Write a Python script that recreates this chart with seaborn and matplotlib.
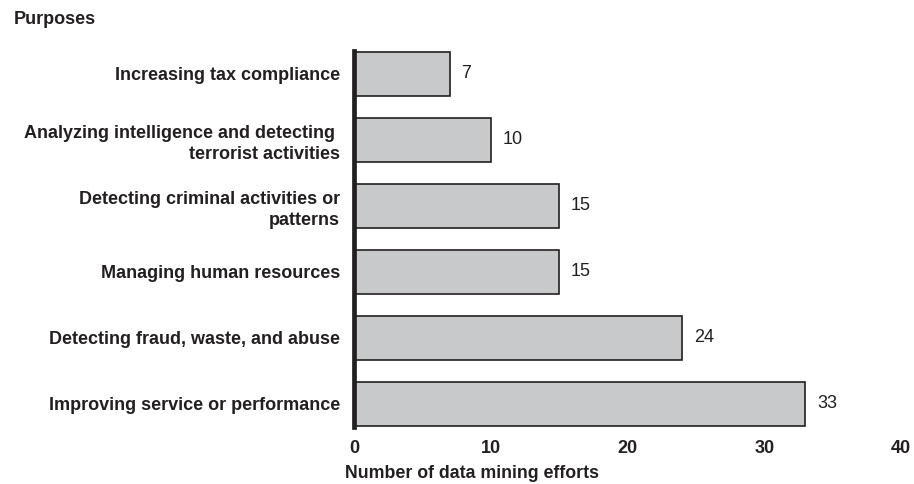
import matplotlib
matplotlib.use("Agg")
import matplotlib.pyplot as plt
import seaborn as sns
import pandas as pd

# data
purposes = [
    "Increasing tax compliance",
    "Analyzing intelligence and detecting \nterrorist activities",
    "Detecting criminal activities or\npatterns",
    "Managing human resources",
    "Detecting fraud, waste, and abuse",
    "Improving service or performance",
]
efforts = [7, 10, 15, 15, 24, 33]
x_ticks = [0, 10, 20, 30, 40]

df = pd.DataFrame({"purpose": purposes, "efforts": efforts})

sns.set_theme(style="white")
plt.rcParams["font.family"] = ["Liberation Sans", "DejaVu Sans"]

ink = "#231f20"
fig = plt.figure(figsize=(9.14, 4.84), dpi=100)
ax = fig.add_axes([354 / 914, 1 - 437 / 484, 547 / 914, 396 / 484])

sns.barplot(data=df, x="efforts", y="purpose", color="#c8c9cb",
            saturation=1, width=0.67, edgecolor=ink, linewidth=1.2, ax=ax)

for i, v in enumerate(efforts):
    ax.text(v + 0.85, i, str(v), va="center", ha="left", fontsize=13, color=ink)

ax.set_xlim(0, 40)
ax.set_xticks(x_ticks)
ax.set_xticklabels([str(t) for t in x_ticks], fontweight="bold", fontsize=13, color=ink)
ax.tick_params(axis="x", length=0, pad=2)
ax.tick_params(axis="y", length=0, pad=10)
for lbl in ax.get_yticklabels():
    lbl.set_fontweight("bold")
    lbl.set_fontsize(13)
    lbl.set_color(ink)
    lbl.set_multialignment("right")
    lbl.set_linespacing(1.3)
ax.set_xlabel("")
ax.set_ylabel("")

for side in ["top", "right", "bottom"]:
    ax.spines[side].set_visible(False)
ax.spines["left"].set_color(ink)
ax.spines["left"].set_linewidth(3.4)
ax.spines["left"].set_bounds(5.35, -0.35)

fig.text(14 / 914, 1 - 20 / 484, "Purposes", fontweight="bold", fontsize=13,
         color=ink, va="center", ha="left")
fig.text(345 / 914, 1 - 474 / 484, "Number of data mining efforts", fontweight="bold",
         fontsize=12.8, color=ink, va="center", ha="left")

fig.savefig("out.png", dpi=100)
